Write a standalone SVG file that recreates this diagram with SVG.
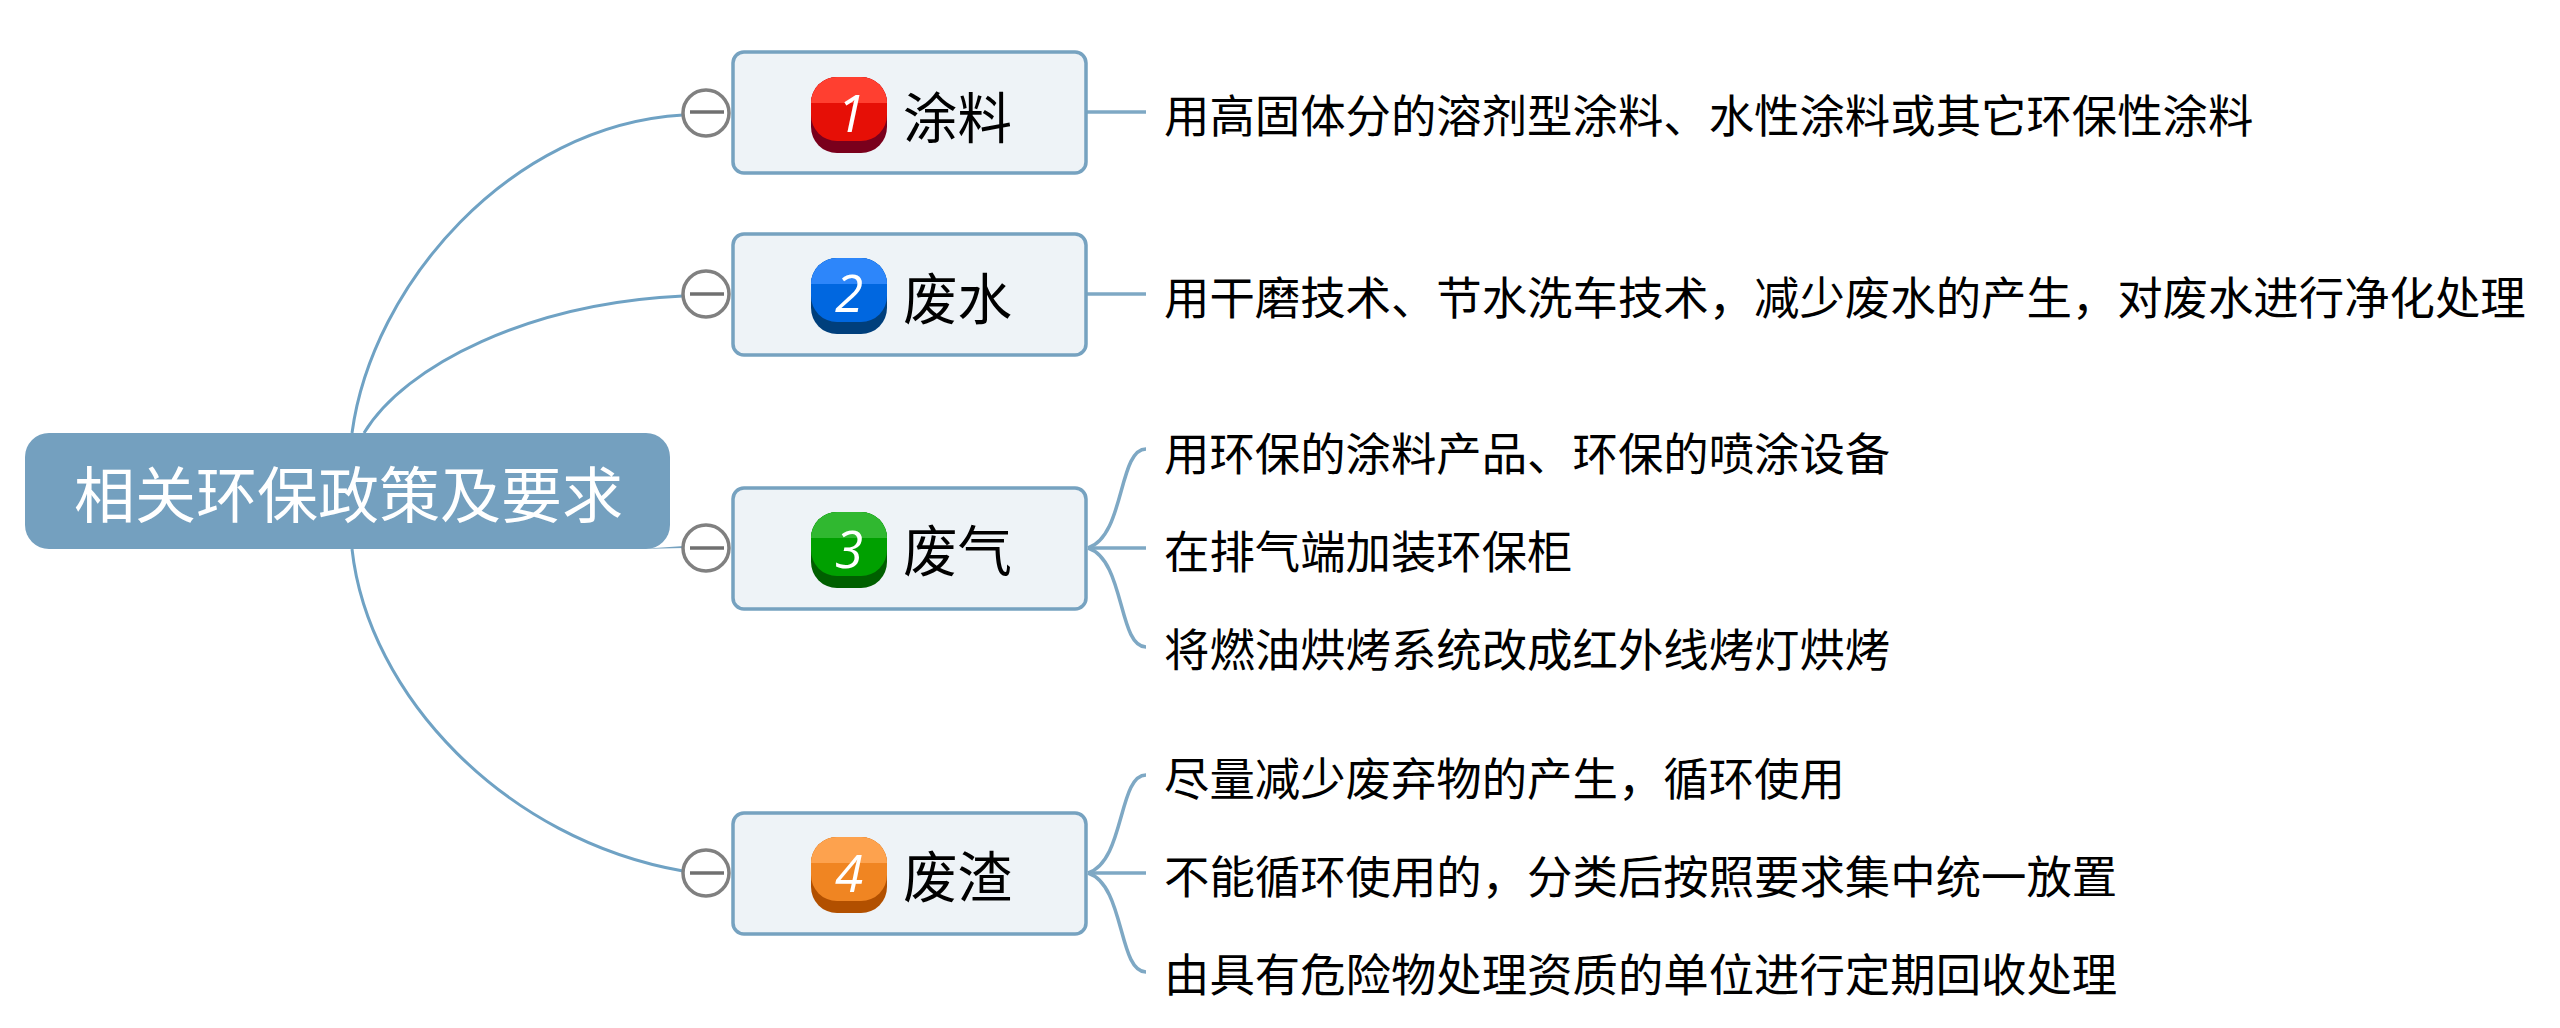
<svg xmlns="http://www.w3.org/2000/svg" width="2560" height="1028" viewBox="0 0 2560 1028">
<style>
.cjk{font-family:"Noto Sans CJK SC","Microsoft YaHei",sans-serif}
.box{fill:#eef3f7;stroke:#76a2c0;stroke-width:3.5}
.con{fill:none;stroke:#6fa2c4;stroke-width:3}
.br{fill:none;stroke:#7ea8c4;stroke-width:3.5}
.leaf{font-size:45.4px;fill:#000}
.tt{font-size:54.5px;fill:#000}
.num{font-family:"Open Sans","Liberation Sans",sans-serif;font-style:italic;font-weight:400;font-size:51px;fill:#fff;text-anchor:middle}
.col{fill:#fff;stroke:#808080;stroke-width:3.5}
.bar{stroke:#707070;stroke-width:3.5}
</style>
<rect width="2560" height="1028" fill="#fff"/>
<g id="connectors">
<path class="con" d="M352 433C372 285 510 125 683 115"/>
<path class="con" d="M364 433C405 365 530 303 683 296"/>
<path d="M640 549L684 546V548Z" fill="#76a2c0"/>
<path class="con" d="M352 549C368 695 505 840 683 871"/>
<path class="br" d="M1086 112H1146"/>
<path class="br" d="M1086 294H1146"/>
<path class="br" d="M1088 548C1125 536 1118 449 1146 449"/>
<path class="br" d="M1088 548H1146"/>
<path class="br" d="M1088 548C1125 560 1118 647 1146 647"/>
<path class="br" d="M1088 873C1125 861 1118 775 1146 775"/>
<path class="br" d="M1088 873H1146"/>
<path class="br" d="M1088 873C1125 885 1118 972 1146 972"/>
</g>
<g id="root">
<rect x="25" y="433" width="645" height="116" rx="24" fill="#74a0bf"/>
<text class="cjk" x="348.500" y="518" font-size="61" fill="#fff" text-anchor="middle">相关环保政策及要求</text>
</g>
<g id="node1">
<circle class="col" cx="706" cy="113" r="23"/><path class="bar" d="M690 112H724"/>
<rect class="box" x="733" y="52" width="353" height="121" rx="11"/>
<rect x="811" y="77" width="76" height="76" rx="26" fill="#7a001c"/>
<rect x="811" y="77" width="76" height="64" rx="26" fill="#e60f06"/>
<path d="M811 103a26 26 0 0 1 26-26h24a26 26 0 0 1 26 26z" fill="#ff3f30"/>
<text class="num" x="851" y="132">1</text>
<text class="cjk tt" x="903" y="138">涂料</text>
</g>
<g id="node2">
<circle class="col" cx="706" cy="294" r="23"/><path class="bar" d="M690 294H724"/>
<rect class="box" x="733" y="234" width="353" height="121" rx="11"/>
<rect x="811" y="258" width="76" height="76" rx="26" fill="#003f7c"/>
<rect x="811" y="258" width="76" height="64" rx="26" fill="#0067e0"/>
<path d="M811 284a26 26 0 0 1 26-26h24a26 26 0 0 1 26 26z" fill="#2d86fa"/>
<text class="num" x="849" y="312">2</text>
<text class="cjk tt" x="903" y="319">废水</text>
</g>
<g id="node3">
<circle class="col" cx="706" cy="548" r="23"/><path class="bar" d="M690 548H724"/>
<rect class="box" x="733" y="488" width="353" height="121" rx="11"/>
<rect x="811" y="512" width="76" height="76" rx="26" fill="#005f00"/>
<rect x="811" y="512" width="76" height="64" rx="26" fill="#00a000"/>
<path d="M811 538a26 26 0 0 1 26-26h24a26 26 0 0 1 26 26z" fill="#30b830"/>
<text class="num" x="849" y="568">3</text>
<text class="cjk tt" x="903" y="571">废气</text>
</g>
<g id="node4">
<circle class="col" cx="706" cy="873" r="23"/><path class="bar" d="M690 873H724"/>
<rect class="box" x="733" y="813" width="353" height="121" rx="11"/>
<rect x="811" y="837" width="76" height="76" rx="26" fill="#b25000"/>
<rect x="811" y="837" width="76" height="64" rx="26" fill="#f08522"/>
<path d="M811 863a26 26 0 0 1 26-26h24a26 26 0 0 1 26 26z" fill="#fda24e"/>
<text class="num" x="849" y="892">4</text>
<text class="cjk tt" x="903" y="897">废渣</text>
</g>
<g id="leaf1"><text class="cjk leaf" x="1164" y="133">用高固体分的溶剂型涂料、水性涂料或其它环保性涂料</text></g>
<g id="leaf2"><text class="cjk leaf" x="1164" y="315">用干磨技术、节水洗车技术，减少废水的产生，对废水进行净化处理</text></g>
<g id="leaf3a"><text class="cjk leaf" x="1164" y="471">用环保的涂料产品、环保的喷涂设备</text></g>
<g id="leaf3b"><text class="cjk leaf" x="1164" y="569">在排气端加装环保柜</text></g>
<g id="leaf3c"><text class="cjk leaf" x="1164" y="667">将燃油烘烤系统改成红外线烤灯烘烤</text></g>
<g id="leaf4a"><text class="cjk leaf" x="1164" y="796">尽量减少废弃物的产生，循环使用</text></g>
<g id="leaf4b"><text class="cjk leaf" x="1164" y="894">不能循环使用的，分类后按照要求集中统一放置</text></g>
<g id="leaf4c"><text class="cjk leaf" x="1164" y="992">由具有危险物处理资质的单位进行定期回收处理</text></g>
</svg>
